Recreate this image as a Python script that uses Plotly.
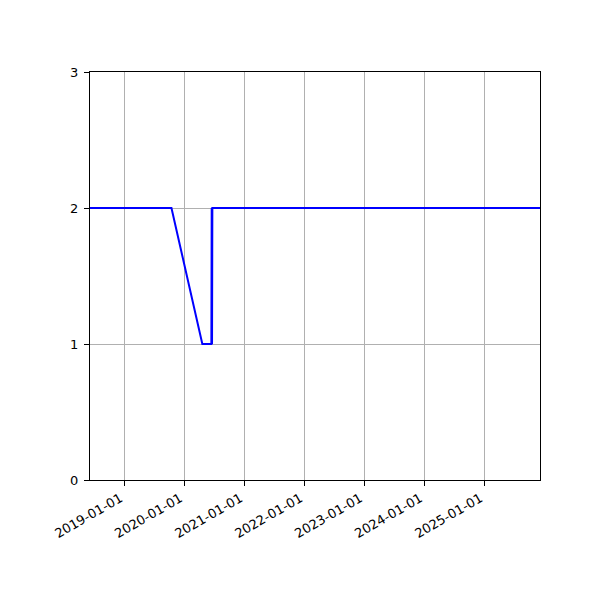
import plotly.graph_objects as go

dates = ["2018-06-06", "2019-10-15", "2020-04-20", "2020-06-14", "2020-06-16",
         "2020-06-18", "2020-06-20", "2025-12-06"]
values = [2, 2, 1, 1, 2, 1, 2, 2]
y_ticks = [0, 1, 2, 3]

fig = go.Figure()
fig.add_trace(go.Scatter(x=dates, y=values, mode="lines",
                         line=dict(color="blue", width=2)))

axis_style = dict(showline=True, linecolor="black", linewidth=1, mirror=True,
                  ticks="outside", ticklen=5, tickcolor="black", automargin=False,
                  showgrid=True, gridcolor="#b0b0b0", gridwidth=1, zeroline=False)

fig.update_xaxes(range=["2018-06-06", "2025-12-06"], tickformat="%Y-%m-%d",
                 dtick="M12", tick0="2019-01-01", tickangle=-30,
                 ticklabelshift=-4, **axis_style)
fig.update_yaxes(range=[0, 3], tickvals=y_ticks, ticklabelstandoff=3, **axis_style)

fig.update_layout(width=600, height=600, plot_bgcolor="white", paper_bgcolor="white",
                  margin=dict(l=90, r=60, t=72, b=120), showlegend=False,
                  font=dict(family="DejaVu Sans", size=13, color="black"))

# page body has a default 8px margin; drop it so the figure sits at 0,0
fig.write_html("out.html", config={"displayModeBar": False},
               post_script="document.body.style.margin='0px';")
